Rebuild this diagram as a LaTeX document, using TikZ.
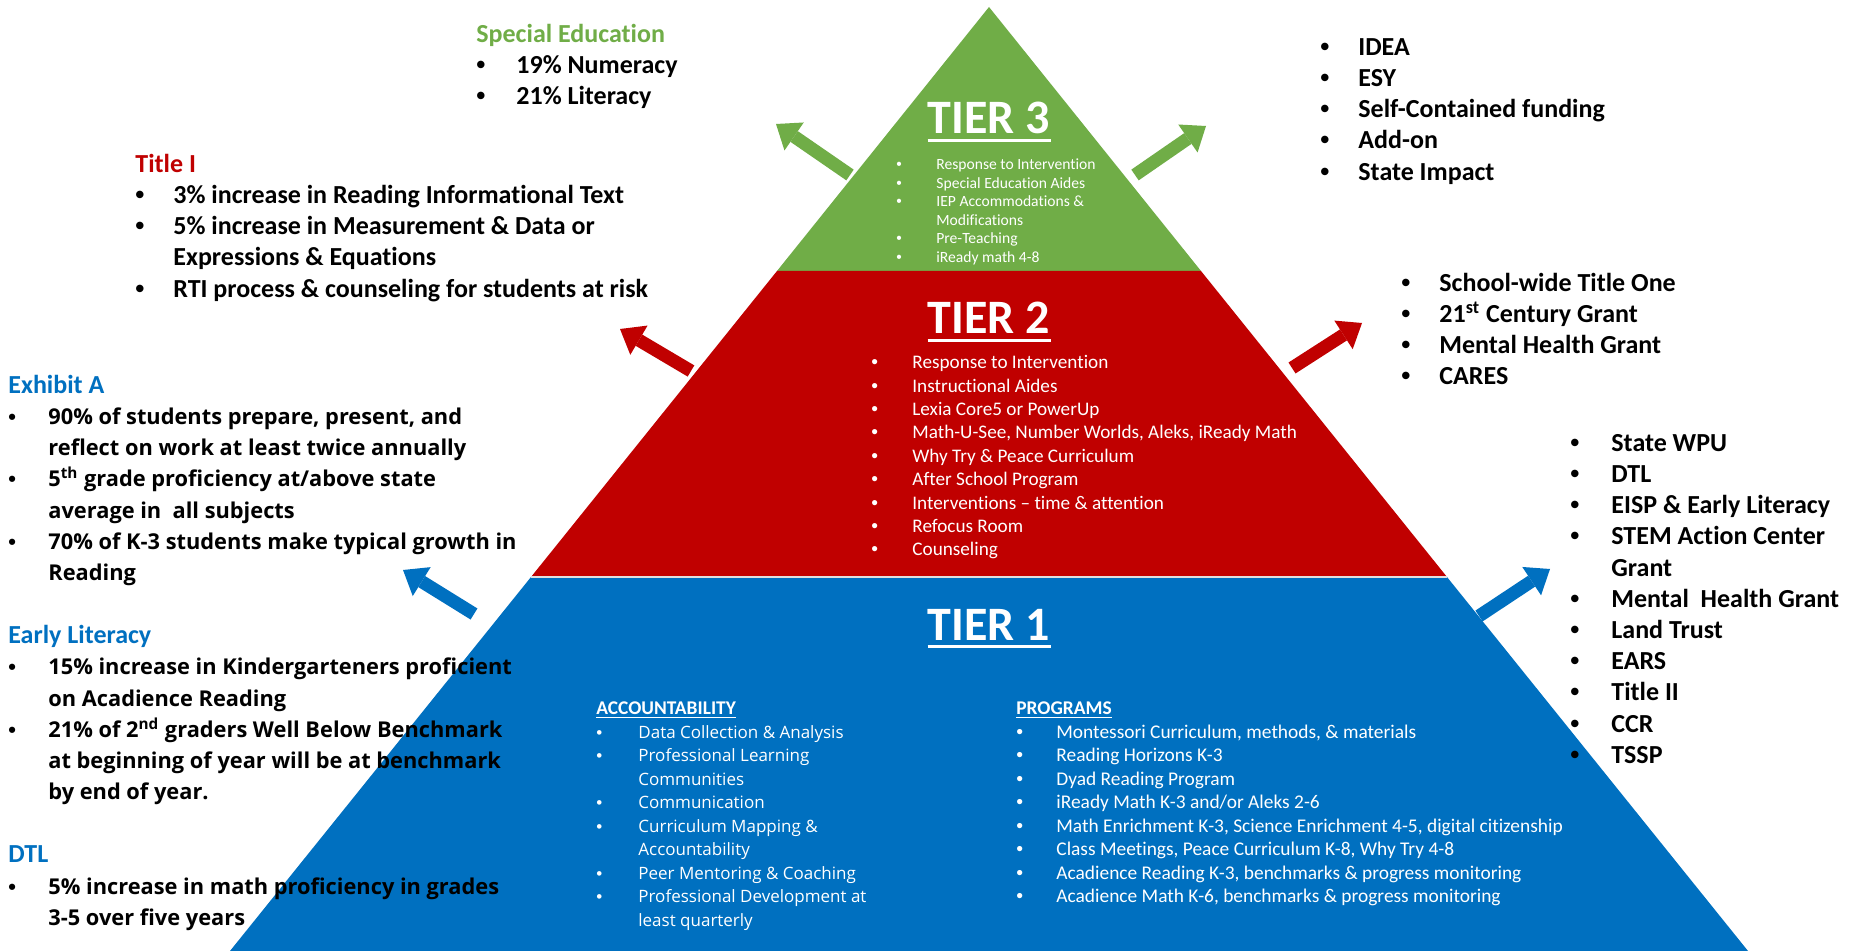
\documentclass[tikz,border=0pt]{standalone}
\usepackage{fontspec}
\setmainfont{Carlito}[Ligatures=NoCommon]
\newfontfamily\widefont{Open Sans}
\newfontfamily\dotfont{Liberation Sans}
\usepackage{tikz}
\usetikzlibrary{positioning,arrows.meta}
\definecolor{tiergreen}{HTML}{70AD47}
\definecolor{tierred}{HTML}{C00000}
\definecolor{tierblue}{HTML}{0070C0}
% list rows: bullet line, continued line, heading line
\newcommand{\bitem}[1]{{\dotfont\textbullet} & #1\\}
\newcommand{\bcont}[1]{& #1\\}
\newcommand{\bhead}[1]{\multicolumn{2}{@{}l@{}}{#1}\\}
\newcommand{\goalhead}[1]{\bhead{\rmfamily\fontsize{13}{15.6}\selectfont\color{tierblue}#1}}
\tikzstyle{tierhead} = [
text=white,
font=\bfseries\fontsize{24}{28}\selectfont,
inner sep=0pt,
anchor=base
]
\tikzstyle{headline} = [
white,
line width=1.5pt
]
\tikzstyle{tierlist} = [
anchor=north west,
inner sep=0pt,
text=white
]
\tikzstyle{fundlist} = [
anchor=north west,
inner sep=0pt,
font=\bfseries\fontsize{13}{15.6}\selectfont
]
\tikzstyle{goallist} = [
anchor=north west,
inner sep=0pt,
font=\widefont\bfseries\fontsize{10.9}{15.6}\selectfont
]
\tikzstyle{blockarrow} = [
line width=6.5pt,
-{Triangle[length=11pt,width=17pt,line width=0pt]}
]

\begin{document}
\begin{tikzpicture}[x=0.5pt,y=-0.5pt]
					\useasboundingbox (0,0) rectangle (1858,951);
					\fill[white] (0,0) rectangle (1858,951);
					%Pyramid corners
					\coordinate (apex) at (989,7);
					\coordinate (l3) at (777,271);
					\coordinate (r3) at (1201,271);
					\coordinate (l2) at (531,577);
					\coordinate (r2) at (1447,577);
					\coordinate (l1) at (230,951);
					\coordinate (r1) at (1748,951);
					%Tiers
					\fill[tiergreen] (apex) -- (l3) -- (r3) -- cycle;
					\fill[tierred] (l3) -- (l2) -- (r2) -- (r3) -- cycle;
					\fill[tierblue] (l2) -- (l1) -- (r1) -- (r2) -- cycle;
					\draw[gray!25,line width=0.8pt] (l2) -- (r2);
					%Headings
					\node[tierhead] (tier3) at (989,134) {TIER 3};
					\node[tierhead] (tier2) at (989,334) {TIER 2};
					\node[tierhead] (tier1) at (989,640) {TIER 1};
					\foreach \t in {tier3,tier2,tier1}
						\draw[headline] ([yshift=-3.5pt]\t.base west) -- ([yshift=-3.5pt]\t.base east);
					%Tier lists
					\node[tierlist,font=\fontsize{7.8}{9.3}\selectfont] (list3) at (896,156) {\begin{tabular}{@{}p{20pt}@{}l@{}}
						\bitem{Response to Intervention}
						\bitem{Special Education Aides}
						\bitem{IEP Accommodations \&}
						\bcont{Modifications}
						\bitem{Pre-Teaching}
						\bitem{iReady math 4-8}
					\end{tabular}};
					\node[tierlist,font=\fontsize{9.6}{11.7}\selectfont] (list2) at (871,352) {\begin{tabular}{@{}p{20.5pt}@{}l@{}}
						\bitem{Response to Intervention}
						\bitem{Instructional Aides}
						\bitem{Lexia Core5 or PowerUp}
						\bitem{Math-U-See, Number Worlds, Aleks, iReady Math}
						\bitem{Why Try \& Peace Curriculum}
						\bitem{After School Program}
						\bitem{Interventions -- time \& attention}
						\bitem{Refocus Room}
						\bitem{Counseling}
					\end{tabular}};
					\node[tierlist,font=\widefont\fontsize{8.5}{11.75}\selectfont] (account) at (596,698) {\begin{tabular}{@{}p{21pt}@{}l@{}}
						\bhead{\rmfamily\bfseries\fontsize{9.7}{11.75}\selectfont\underline{ACCOUNTABILITY}}
						\bitem{Data Collection \& Analysis}
						\bitem{Professional Learning}
						\bcont{Communities}
						\bitem{Communication}
						\bitem{Curriculum Mapping \&}
						\bcont{Accountability}
						\bitem{Peer Mentoring \& Coaching}
						\bitem{Professional Development at}
						\bcont{least quarterly}
					\end{tabular}};
					\node[tierlist,font=\fontsize{9.7}{11.75}\selectfont] (programs) at (1016,698) {\begin{tabular}{@{}p{20pt}@{}l@{}}
						\bhead{\bfseries\underline{PROGRAMS}}
						\bitem{Montessori Curriculum, methods, \& materials}
						\bitem{Reading Horizons K-3}
						\bitem{Dyad Reading Program}
						\bitem{iReady Math K-3 and/or Aleks 2-6}
						\bitem{Math Enrichment K-3, Science Enrichment 4-5, digital citizenship}
						\bitem{Class Meetings, Peace Curriculum K-8, Why Try 4-8}
						\bitem{Acadience Reading K-3, benchmarks \& progress monitoring}
						\bitem{Acadience Math K-6, benchmarks \& progress monitoring}
					\end{tabular}};
					%Goals
					\node[fundlist] (specialed) at (476,20) {\begin{tabular}{@{}p{20pt}@{}l@{}}
						\bhead{\color{tiergreen}Special Education}
						\bitem{19\% Numeracy}
						\bitem{21\% Literacy}
					\end{tabular}};
					\node[fundlist] (titleone) at (135,150) {\begin{tabular}{@{}p{19pt}@{}l@{}}
						\bhead{\color{tierred}Title I}
						\bitem{3\% increase in Reading Informational Text}
						\bitem{5\% increase in Measurement \& Data or}
						\bcont{Expressions \& Equations}
						\bitem{RTI process \& counseling for students at risk}
					\end{tabular}};
					\node[goallist] (exhibit) at (8,371) {\begin{tabular}{@{}p{20pt}@{}l@{}}
						\goalhead{Exhibit A}
						\bitem{90\% of students prepare, present, and}
						\bcont{reflect on work at least twice annually}
						\bitem{5\textsuperscript{th} grade proficiency at/above state}
						\bcont{average in\ \ all subjects}
						\bitem{70\% of K-3 students make typical growth in}
						\bcont{Reading}
					\end{tabular}};
					\node[goallist,below=15.6pt of exhibit.south west,anchor=north west] (literacy) {\begin{tabular}{@{}p{20pt}@{}l@{}}
						\goalhead{Early Literacy}
						\bitem{15\% increase in Kindergarteners proficient}
						\bcont{on Acadience Reading}
						\bitem{21\% of 2\textsuperscript{nd} graders Well Below Benchmark}
						\bcont{at beginning of year will be at benchmark}
						\bcont{by end of year.}
					\end{tabular}};
					\node[goallist,below=15.6pt of literacy.south west,anchor=north west] (dtl) {\begin{tabular}{@{}p{20pt}@{}l@{}}
						\goalhead{DTL}
						\bitem{5\% increase in math proficiency in grades}
						\bcont{3-5 over five years}
					\end{tabular}};
					%Funding
					\node[fundlist] (fund3) at (1320,33) {\begin{tabular}{@{}p{19pt}@{}l@{}}
						\bitem{IDEA}
						\bitem{ESY}
						\bitem{Self-Contained funding}
						\bitem{Add-on}
						\bitem{State Impact}
					\end{tabular}};
					\node[fundlist] (fund2) at (1401,269) {\begin{tabular}{@{}p{19pt}@{}l@{}}
						\bitem{School-wide Title One}
						\bitem{21\textsuperscript{st} Century Grant}
						\bitem{Mental Health Grant}
						\bitem{CARES}
					\end{tabular}};
					\node[fundlist] (fund1) at (1570,429) {\begin{tabular}{@{}p{20.5pt}@{}l@{}}
						\bitem{State WPU}
						\bitem{DTL}
						\bitem{EISP \& Early Literacy}
						\bitem{STEM Action Center}
						\bcont{Grant}
						\bitem{Mental\ \ Health Grant}
						\bitem{Land Trust}
						\bitem{EARS}
						\bitem{Title II}
						\bitem{CCR}
						\bitem{TSSP}
					\end{tabular}};
					%Arrow ends
					\coordinate (g3tail) at (850,175);
					\coordinate (g3head) at (776,124);
					\coordinate (f3tail) at (1135,175);
					\coordinate (f3head) at (1206,126);
					\coordinate (g2tail) at (691,371);
					\coordinate (g2head) at (620,329);
					\coordinate (f2tail) at (1292,368);
					\coordinate (f2head) at (1362,323);
					\coordinate (g1tail) at (474,614);
					\coordinate (g1head) at (403,570);
					\coordinate (f1tail) at (1479,616);
					\coordinate (f1head) at (1550,569);
					%Arrows
					\draw[blockarrow,tiergreen] (g3tail) -- (g3head);
					\draw[blockarrow,tiergreen] (f3tail) -- (f3head);
					\draw[blockarrow,tierred] (g2tail) -- (g2head);
					\draw[blockarrow,tierred] (f2tail) -- (f2head);
					\draw[blockarrow,tierblue] (g1tail) -- (g1head);
					\draw[blockarrow,tierblue] (f1tail) -- (f1head);
				\end{tikzpicture}
\end{document}
